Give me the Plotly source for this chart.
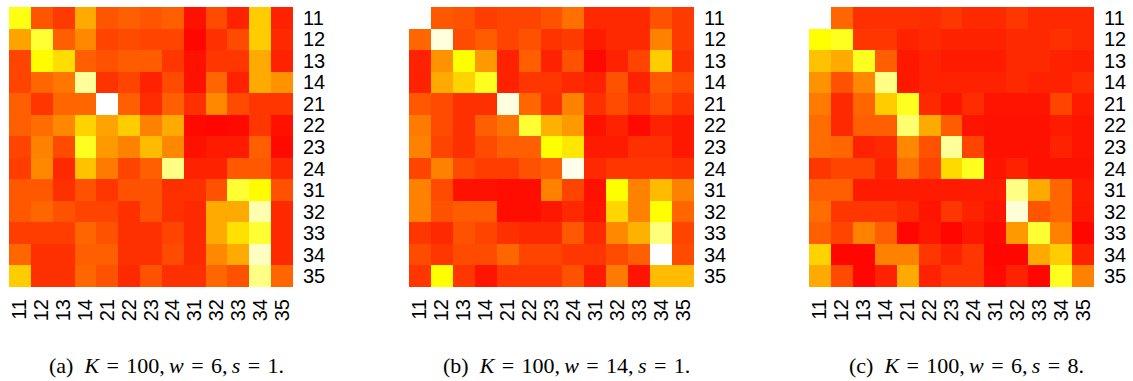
import plotly.graph_objects as go

labels = ["11", "12", "13", "14", "21", "22", "23", "24", "31", "32", "33", "34", "35"]

# values in [0,1] read from the heat.colors shading (0 = red, 0.75 = yellow, 1 = white)
vals_a = [
    [0.77, 0.25, 0.17, 0.50, 0.25, 0.28, 0.25, 0.28, 0.05, 0.22, 0.10, 0.60, 0.10],
    [0.48, 0.80, 0.28, 0.40, 0.20, 0.22, 0.20, 0.20, 0.02, 0.14, 0.22, 0.60, 0.12],
    [0.20, 0.74, 0.65, 0.28, 0.24, 0.27, 0.27, 0.16, 0.05, 0.16, 0.16, 0.50, 0.10],
    [0.20, 0.30, 0.35, 0.90, 0.15, 0.20, 0.10, 0.22, 0.05, 0.30, 0.10, 0.50, 0.43],
    [0.28, 0.16, 0.30, 0.30, 1.00, 0.28, 0.13, 0.28, 0.14, 0.40, 0.22, 0.16, 0.16],
    [0.28, 0.32, 0.40, 0.62, 0.48, 0.60, 0.38, 0.50, 0.03, 0.02, 0.03, 0.16, 0.05],
    [0.20, 0.38, 0.22, 0.78, 0.45, 0.38, 0.55, 0.40, 0.05, 0.08, 0.08, 0.28, 0.03],
    [0.18, 0.40, 0.12, 0.57, 0.36, 0.20, 0.28, 0.88, 0.10, 0.10, 0.26, 0.26, 0.12],
    [0.26, 0.26, 0.14, 0.24, 0.16, 0.24, 0.24, 0.14, 0.14, 0.24, 0.80, 0.74, 0.24],
    [0.26, 0.30, 0.24, 0.20, 0.20, 0.14, 0.24, 0.14, 0.12, 0.50, 0.50, 0.92, 0.12],
    [0.18, 0.18, 0.18, 0.30, 0.24, 0.14, 0.14, 0.20, 0.12, 0.50, 0.66, 0.80, 0.12],
    [0.30, 0.14, 0.14, 0.28, 0.28, 0.14, 0.14, 0.22, 0.12, 0.40, 0.50, 0.94, 0.12],
    [0.60, 0.14, 0.14, 0.30, 0.24, 0.12, 0.24, 0.14, 0.14, 0.30, 0.24, 0.88, 0.30],
]

vals_b = [
    [1.00, 0.26, 0.24, 0.18, 0.20, 0.20, 0.24, 0.33, 0.12, 0.12, 0.12, 0.24, 0.17],
    [0.30, 0.97, 0.22, 0.27, 0.20, 0.24, 0.15, 0.17, 0.08, 0.12, 0.12, 0.38, 0.17],
    [0.10, 0.43, 0.75, 0.45, 0.10, 0.28, 0.10, 0.24, 0.03, 0.10, 0.20, 0.60, 0.14],
    [0.10, 0.50, 0.62, 0.78, 0.10, 0.16, 0.16, 0.12, 0.10, 0.24, 0.10, 0.26, 0.22],
    [0.26, 0.22, 0.14, 0.14, 0.97, 0.30, 0.14, 0.38, 0.14, 0.22, 0.15, 0.22, 0.15],
    [0.36, 0.22, 0.14, 0.28, 0.34, 0.80, 0.52, 0.45, 0.05, 0.10, 0.03, 0.10, 0.07],
    [0.38, 0.20, 0.14, 0.22, 0.28, 0.28, 0.75, 0.68, 0.08, 0.08, 0.14, 0.14, 0.07],
    [0.20, 0.38, 0.22, 0.18, 0.18, 0.24, 0.28, 0.98, 0.12, 0.16, 0.16, 0.16, 0.14],
    [0.38, 0.22, 0.05, 0.05, 0.04, 0.04, 0.38, 0.20, 0.05, 0.75, 0.38, 0.55, 0.38],
    [0.38, 0.24, 0.27, 0.27, 0.04, 0.04, 0.07, 0.12, 0.06, 0.63, 0.38, 0.75, 0.30],
    [0.16, 0.12, 0.24, 0.20, 0.14, 0.12, 0.12, 0.26, 0.12, 0.40, 0.52, 0.87, 0.20],
    [0.22, 0.16, 0.22, 0.22, 0.30, 0.20, 0.20, 0.16, 0.16, 0.22, 0.28, 1.00, 0.22],
    [0.16, 0.75, 0.16, 0.06, 0.16, 0.16, 0.16, 0.24, 0.08, 0.36, 0.06, 0.55, 0.55],
]

vals_c = [
    [1.00, 0.30, 0.14, 0.14, 0.14, 0.13, 0.16, 0.12, 0.12, 0.16, 0.12, 0.12, 0.12],
    [0.75, 0.78, 0.16, 0.16, 0.10, 0.12, 0.10, 0.10, 0.10, 0.12, 0.12, 0.14, 0.12],
    [0.57, 0.50, 0.78, 0.28, 0.07, 0.10, 0.08, 0.08, 0.08, 0.12, 0.12, 0.10, 0.09],
    [0.43, 0.24, 0.40, 0.88, 0.07, 0.10, 0.10, 0.10, 0.10, 0.12, 0.10, 0.10, 0.13],
    [0.36, 0.12, 0.30, 0.60, 0.78, 0.12, 0.06, 0.13, 0.06, 0.06, 0.06, 0.20, 0.08],
    [0.32, 0.12, 0.28, 0.28, 0.86, 0.50, 0.27, 0.06, 0.05, 0.05, 0.05, 0.08, 0.06],
    [0.32, 0.30, 0.10, 0.12, 0.40, 0.24, 0.90, 0.20, 0.05, 0.05, 0.05, 0.10, 0.06],
    [0.16, 0.20, 0.20, 0.10, 0.33, 0.20, 0.64, 0.78, 0.06, 0.10, 0.05, 0.05, 0.05],
    [0.28, 0.28, 0.08, 0.08, 0.08, 0.08, 0.08, 0.08, 0.08, 0.88, 0.50, 0.30, 0.08],
    [0.32, 0.16, 0.16, 0.16, 0.12, 0.06, 0.16, 0.10, 0.06, 0.96, 0.25, 0.30, 0.07],
    [0.28, 0.20, 0.38, 0.28, 0.02, 0.07, 0.02, 0.07, 0.03, 0.45, 0.80, 0.38, 0.02],
    [0.62, 0.02, 0.02, 0.38, 0.38, 0.16, 0.10, 0.16, 0.02, 0.02, 0.50, 0.60, 0.10],
    [0.50, 0.22, 0.02, 0.10, 0.50, 0.10, 0.16, 0.16, 0.03, 0.10, 0.02, 0.78, 0.38],
]

EN, MID, TH = "\u2002", "\u2004", "\u2009"
captions = [
    f"(a){EN}<i>K</i>{MID}={MID}100,{TH}<i>w</i>{MID}={MID}6,{TH}<i>s</i>{MID}={MID}1.",
    f"(b){EN}<i>K</i>{MID}={MID}100,{TH}<i>w</i>{MID}={MID}14,{TH}<i>s</i>{MID}={MID}1.",
    f"(c){EN}<i>K</i>{MID}={MID}100,{TH}<i>w</i>{MID}={MID}6,{TH}<i>s</i>{MID}={MID}8.",
]

W, H = 1133, 381
heat = [[0.0, "#FF0000"], [0.75, "#FFFF00"], [1.0, "#FFFFFF"]]

panels_px = [(9, 293), (409, 694), (809, 1094)]
caption_cx = [166, 566, 966]
y_top, y_bot = 7, 287
cap_y = 365

fig = go.Figure()
layout = dict(
    width=W, height=H,
    margin=dict(l=0, r=0, t=0, b=0),
    paper_bgcolor="white", plot_bgcolor="white",
    showlegend=False,
    annotations=[],
)

tick_font = dict(family="Liberation Sans, Arial, sans-serif", size=20, color="black")

for i, (vals, (x0, x1)) in enumerate(zip([vals_a, vals_b, vals_c], panels_px)):
    n = i + 1
    xa = "x" if n == 1 else f"x{n}"
    ya = "y" if n == 1 else f"y{n}"
    fig.add_trace(go.Heatmap(
        z=vals, x=labels, y=labels,
        colorscale=heat, zmin=0, zmax=1, showscale=False,
        xaxis=xa, yaxis=ya, xgap=0, ygap=0,
    ))
    xk = "xaxis" if n == 1 else f"xaxis{n}"
    yk = "yaxis" if n == 1 else f"yaxis{n}"
    layout[xk] = dict(
        domain=[x0 / W, x1 / W], anchor=ya, type="category",
        tickmode="array", tickvals=labels, ticktext=labels,
        tickangle=-90, ticks="outside", ticklen=3, tickcolor="rgba(0,0,0,0)",
        showgrid=False, zeroline=False, showline=False, automargin=False,
        tickfont=tick_font,
    )
    layout[yk] = dict(
        domain=[1 - y_bot / H, 1 - y_top / H], anchor=xa, type="category",
        tickmode="array", tickvals=labels, ticktext=labels,
        autorange="reversed", side="right",
        ticks="outside", ticklen=5, tickcolor="rgba(0,0,0,0)",
        showgrid=False, zeroline=False, showline=False, automargin=False,
        tickfont=tick_font,
    )
    layout["annotations"].append(dict(
        text=captions[i], xref="paper", yref="paper",
        x=caption_cx[i] / W, y=1 - cap_y / H,
        xanchor="center", yanchor="middle",
        showarrow=False,
        font=dict(family="Liberation Serif, Times New Roman, serif", size=22, color="black"),
    ))

fig.update_layout(**layout)
fig.write_html(
    "out.html",
    config={"displayModeBar": False, "staticPlot": True},
    post_script="document.body.style.margin='0';document.body.style.padding='0';",
)
